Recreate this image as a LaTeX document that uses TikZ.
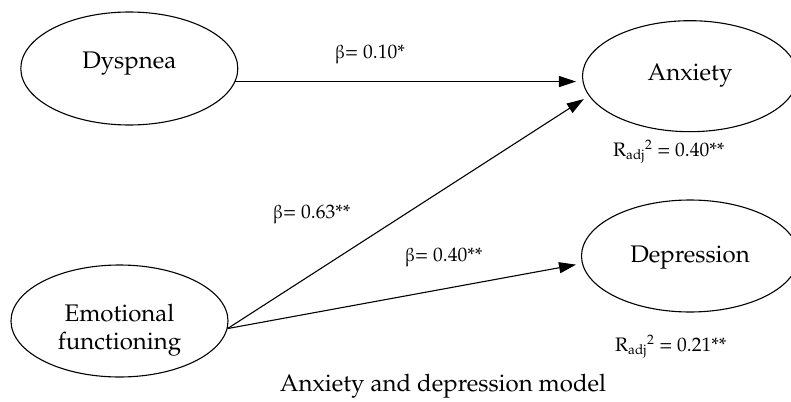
\documentclass[tikz,border=0pt]{standalone}
\usepackage[T1]{fontenc}
\usepackage{pxfonts}
\usetikzlibrary{shapes.geometric,arrows.meta}
\begin{document}
\begin{tikzpicture}[x=1pt,y=-1pt,
  ell/.style={draw, ellipse, line width=1.1pt, inner sep=0pt, font=\fontsize{24}{28}\selectfont},
  arr/.style={line width=1.1pt, -{Triangle[length=17pt,width=11pt]}, shorten >=6pt},
  lbl/.style={inner sep=0pt, font=\fontsize{19.5}{23}\selectfont},
  captext/.style={inner sep=0pt, font=\fontsize{24}{28}\selectfont}]
\useasboundingbox (0,0) rectangle (791,401);
\node[ell, minimum width=217pt, minimum height=113pt, text height=17pt, text depth=17pt] (dys) at (129.3,68.5) {Dyspnea};
\node[ell, minimum width=215pt, minimum height=111pt, text height=17pt, text depth=9pt] (anx) at (690,76.2) {Anxiety};
\node[ell, minimum width=217pt, minimum height=112pt, text height=17pt, text depth=3.6pt] (dep) at (690,256) {Depression};
\node[ell, minimum width=217pt, minimum height=112pt, align=center, text height=60pt, text depth=4pt] (emo) at (119.5,321) {Emotional\\functioning};
\coordinate (ef) at (emo.-4.8);
\draw[arr] (dys.-7.3) -- (dys.-7.3 -| anx.west);
\draw[arr] (ef) -- (anx.191.9);
\draw[arr] (ef) -- (dep.184.5);
\node[lbl, anchor=base west] (b1) at (335,58.3) {$\betaup$= 0.10*};
\node[lbl, anchor=base west] (b2) at (273,218.3) {$\betaup$= 0.63**};
\node[lbl, anchor=base west] (b3) at (405,261.7) {$\betaup$= 0.40**};
\node[lbl, anchor=base west] (r1) at (613,156.7) {R\textsubscript{adj}\textsuperscript{2} = 0.40**};
\node[lbl, anchor=base west] (r2) at (615,351.7) {R\textsubscript{adj}\textsuperscript{2} = 0.21**};
\node[captext, anchor=base] (caption) at (443,391.7) {Anxiety and depression model};
\end{tikzpicture}
\end{document}
